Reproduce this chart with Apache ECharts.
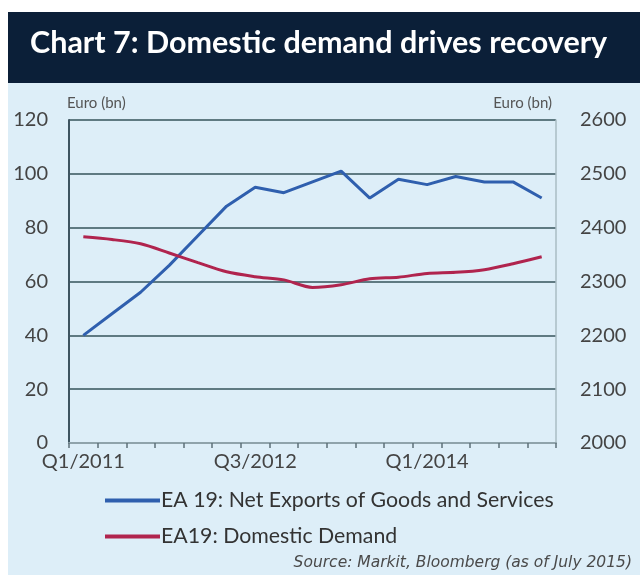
<!DOCTYPE html>
<html>
<head>
<meta charset="utf-8">
<script src="https://cdn.jsdelivr.net/npm/echarts@6/dist/echarts.min.js"></script>
<style>
html,body{margin:0;padding:0;background:#ffffff;}
#chart{width:640px;height:575px;}
</style>
</head>
<body>
<div id="chart"></div>
<script>
var categories = ['Q1/2011','Q2/2011','Q3/2011','Q4/2011','Q1/2012','Q2/2012','Q3/2012','Q4/2012','Q1/2013','Q2/2013','Q3/2013','Q4/2013','Q1/2014','Q2/2014','Q3/2014','Q4/2014','Q1/2015'];
var netExports = [40, 48, 56, 66, 77, 88, 95, 93, 97, 101, 91, 98, 96, 99, 97, 97, 91];
var domesticDemand = [2383, 2378, 2370, 2353, 2335, 2318, 2309, 2303, 2289, 2294, 2305, 2308, 2315, 2317, 2322, 2333, 2346];
var leftTicks = [0, 120, 20];
var rightTicks = [2000, 2600, 100];
var titleText = 'Chart 7: Domestic demand drives recovery';
var seriesNames = ['EA 19: Net Exports of Goods and Services', 'EA19: Domestic Demand'];
var sourceText = 'Source: Markit, Bloomberg (as of July 2015)';

var chart = echarts.init(document.getElementById('chart'));
var font = 'Lato, "Open Sans", sans-serif';
var option = {
  animation: false,
  textStyle: {fontFamily: font},
  graphic: [
    {type: 'rect', z: -10, shape: {x: 8, y: 12, width: 632, height: 71}, style: {fill: '#0b1f38'}},
    {type: 'rect', z: -10, shape: {x: 8, y: 83, width: 632, height: 492}, style: {fill: '#ddeef8'}},
    {type: 'text', left: 30, top: 28, style: {text: titleText, fill: '#ffffff', font: 'bold 30.5px ' + font}},
    {type: 'text', right: 8, top: 555, style: {text: sourceText, fill: '#4a4a4a', font: 'italic 15.5px "DejaVu Sans", sans-serif'}}
  ],
  grid: {left: 69, right: 84, top: 120, bottom: 132},
  legend: {
    orient: 'vertical', left: 100, top: 485, itemWidth: 55, itemHeight: 4, itemGap: 15,
    icon: 'rect',
    textStyle: {fontSize: 21.3, color: '#333', fontFamily: font, padding: [0, 0, 0, -4]},
    data: seriesNames
  },
  xAxis: {
    type: 'category', data: categories, boundaryGap: true,
    axisLine: {lineStyle: {color: '#8fa3ab', width: 2}},
    axisTick: {show: true, interval: 0, length: 5, lineStyle: {color: '#5d7078', width: 1.5}},
    axisLabel: {interval: 5, color: '#444', fontSize: 20, margin: 9},
    splitLine: {show: false}
  },
  yAxis: [
    {
      type: 'value', min: leftTicks[0], max: leftTicks[1], interval: leftTicks[2],
      name: 'Euro (bn)', nameLocation: 'end', nameGap: 9,
      nameTextStyle: {align: 'left', color: '#555', fontSize: 15, padding: [0, 0, 0, -2]},
      axisLine: {show: true, lineStyle: {color: '#3d5460', width: 2}},
      axisTick: {show: false},
      axisLabel: {color: '#444', fontSize: 20, margin: 21},
      splitLine: {show: true, lineStyle: {color: '#5f7a82', width: 2}}
    },
    {
      type: 'value', min: rightTicks[0], max: rightTicks[1], interval: rightTicks[2],
      name: 'Euro (bn)', nameLocation: 'end', nameGap: 9,
      nameTextStyle: {align: 'right', color: '#555', fontSize: 15, padding: [0, 4, 0, 0]},
      axisLine: {show: true, lineStyle: {color: '#a9bcc4', width: 1.5}},
      axisTick: {show: false},
      axisLabel: {color: '#444', fontSize: 20, margin: 24, formatter: function (v) { return String(v); }},
      splitLine: {show: false}
    }
  ],
  series: [
    {
      name: seriesNames[0], type: 'line', yAxisIndex: 0, data: netExports,
      symbol: 'none', lineStyle: {color: '#2f5fae', width: 3}, itemStyle: {color: '#2f5fae'}
    },
    {
      name: seriesNames[1], type: 'line', yAxisIndex: 1, data: domesticDemand, smooth: 0.3,
      symbol: 'none', lineStyle: {color: '#b0244e', width: 3}, itemStyle: {color: '#b0244e'}
    }
  ]
};
chart.setOption(option);
</script>
</body>
</html>
